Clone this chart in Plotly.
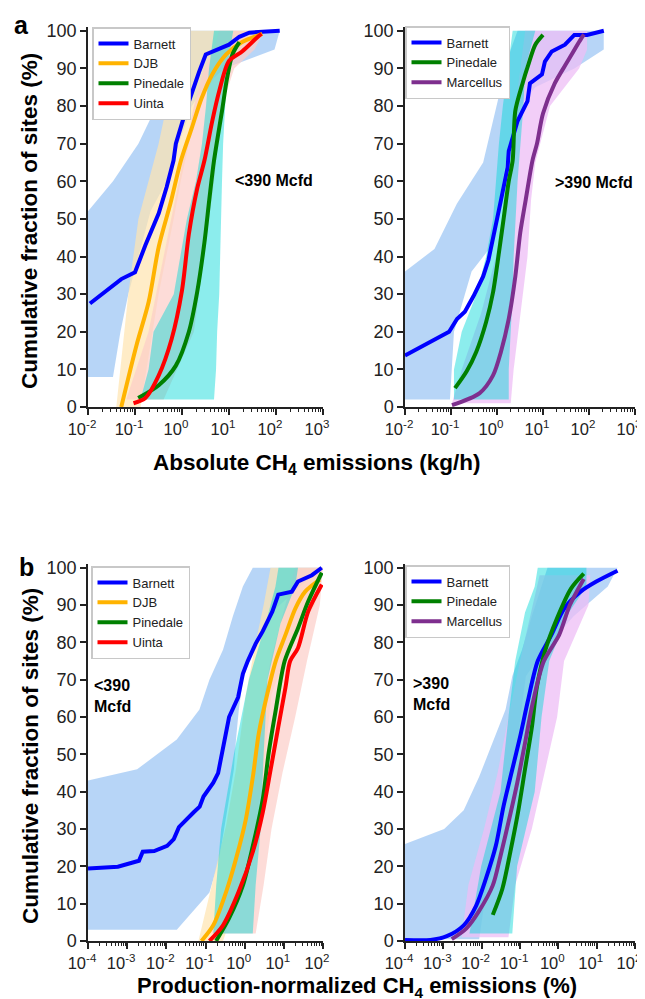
import plotly.graph_objects as go

# ---- panel a, <390 Mcfd (absolute emissions, kg/h) ----
a1_barnett_x = [0.011, 0.051, 0.10, 0.166, 0.32, 0.47, 0.66, 0.74, 1.2, 1.55, 2.3, 3.2, 5.4, 10, 16.6, 27, 120]
a1_barnett_y = [27.5, 34, 35.8, 43, 51.5, 58.4, 65.5, 70, 78.7, 83, 89, 93.7, 95, 96.3, 98.4, 99.5, 100]
a1_djb_x = [0.051, 0.107, 0.195, 0.32, 0.57, 0.95, 1.6, 2.6, 4.4, 8.7, 19, 51]
a1_djb_y = [0, 16.3, 27.9, 42.6, 54.2, 65.5, 74, 82, 88.4, 93.7, 97, 99.2]
a1_pinedale_x = [0.117, 0.32, 0.74, 1.4, 2.1, 3.0, 3.8, 4.8, 7.1, 9.1, 11.8, 16.6]
a1_pinedale_y = [2.4, 5.8, 11, 20, 30.5, 43.7, 55, 65.5, 78.7, 87.4, 93.7, 97]
a1_uinta_x = [0.093, 0.166, 0.32, 0.6, 1.0, 1.4, 2.1, 3.0, 4.4, 6.2, 10, 19, 38, 49]
a1_uinta_y = [1, 2.4, 8.4, 18, 31, 46, 58, 65.5, 76, 84, 92, 94.5, 98, 99.2]

# bootstrap envelopes (cumulative %, lower x, upper x)
a1_barnett_band_y = [8, 20, 30, 40, 52, 60, 70, 80, 85, 90, 95, 100]
a1_barnett_band_lo = [0.01, 0.01, 0.01, 0.01, 0.01, 0.034, 0.118, 0.288, 0.37, 0.47, 0.575, 0.667]
a1_barnett_band_hi = [0.034, 0.049, 0.072, 0.118, 0.214, 0.47, 0.85, 1.62, 2.9, 7.9, 93, 120]
a1_djb_band_y = [0, 10, 30, 50, 60, 70, 80, 90, 97, 100]
a1_djb_band_lo = [0.040, 0.049, 0.072, 0.118, 0.194, 0.318, 0.47, 0.604, 0.667, 0.736]
a1_djb_band_hi = [0.131, 0.176, 0.318, 0.667, 0.94, 1.40, 2.29, 6.2, 27, 44]
a1_uinta_band_y = [2, 20, 40, 60, 80, 90, 95, 100]
a1_uinta_band_lo = [0.065, 0.194, 0.406, 0.85, 1.79, 2.94, 4.8, 6.2]
a1_uinta_band_hi = [0.406, 1.79, 2.94, 4.8, 7.1, 12.9, 35, 57]
a1_pinedale_band_y = [2, 10, 20, 30, 50, 60, 70, 80, 90, 100]
a1_pinedale_band_lo = [0.131, 0.194, 0.248, 0.667, 1.27, 1.98, 2.66, 3.24, 3.76, 4.8]
a1_pinedale_band_hi = [4.8, 5.3, 5.6, 6.2, 6.8, 7.1, 7.5, 8.3, 9.1, 12.3]

# ---- panel a, >390 Mcfd ----
a2_barnett_x = [0.01, 0.022, 0.05, 0.091, 0.135, 0.2, 0.31, 0.5, 0.65, 0.82, 0.95, 1.22, 1.7,
                1.8, 2.8, 4.6, 5.2, 9.5, 11, 15.5, 30, 48, 91, 210]
a2_barnett_y = [13.7, 16, 18.2, 20, 23.4, 25.3, 29.5, 34.7, 39, 44.5, 48.4, 55, 63.7,
                68, 76, 81.3, 86, 88.4, 91.8, 94.5, 96.3, 98.9, 98.9, 100]
a2_pinedale_x = [0.122, 0.219, 0.355, 0.58, 0.82, 1.1, 1.41, 1.8, 2.19, 2.5, 3.55, 4.8, 6.8, 10]
a2_pinedale_y = [5, 9.5, 14.7, 22.6, 30.5, 41, 50.5, 60, 65.5, 78.7, 85.8, 91, 96.3, 98.9]
a2_marcellus_x = [0.105, 0.42, 0.82, 1.22, 1.8, 2.5, 3.2, 4.2, 5.9, 7.4, 10, 18, 34, 68, 78]
a2_marcellus_y = [0.5, 3.7, 8.4, 14.7, 23.4, 34.7, 46.3, 55, 65.5, 70, 78, 86, 91.8, 98, 99]

a2_barnett_band_y = [2, 20, 36, 42, 54, 65, 80, 85, 90, 95, 100]
a2_barnett_band_lo = [0.01, 0.01, 0.01, 0.0437, 0.134, 0.50, 0.95, 1.22, 1.55, 1.99, 2.8]
a2_barnett_band_hi = [0.095, 0.116, 0.28, 0.676, 1.1, 1.55, 3.2, 6.8, 48, 209, 209]
a2_pinedale_band_y = [2, 10, 20, 30, 40, 50, 60, 70, 80, 90, 100]
a2_pinedale_band_lo = [0.116, 0.116, 0.171, 0.357, 0.58, 0.82, 0.95, 1.1, 1.34, 1.71, 2.19]
a2_pinedale_band_hi = [1.8, 1.8, 1.99, 2.19, 2.3, 2.54, 2.8, 3.24, 3.75, 4.1, 6.8]
a2_marcellus_band_y = [1, 10, 25, 40, 55, 65, 80, 90, 95, 100]
a2_marcellus_band_lo = [0.105, 0.171, 0.453, 0.95, 1.55, 1.99, 2.54, 3.24, 3.75, 4.1]
a2_marcellus_band_hi = [1.99, 2.3, 3.24, 4.6, 5.5, 6.8, 14.2, 61, 91, 91]

# ---- panel b, <390 Mcfd (production-normalized, %) ----
b1_barnett_x = [0.0001, 0.00058, 0.002, 0.0025, 0.0049, 0.0105, 0.0155, 0.021, 0.05, 0.071, 0.089, 0.158, 0.21,
                0.28, 0.4, 0.68, 0.9, 1.2, 1.9, 2.9, 5.1, 7.2, 16, 23, 52, 93]
b1_barnett_y = [19.4, 19.9, 21.5, 23.9, 24.1, 25.5, 27.3, 30.5, 34.5, 36, 38.7, 42.4, 45,
                51.2, 60, 65.3, 71.6, 75, 79.6, 83, 88.3, 92.8, 93.6, 96.3, 98, 100]
b1_djb_x = [0.079, 0.158, 0.34, 0.6, 1.07, 1.62, 2.3, 3.8, 6.2, 11, 19.5, 35, 83]
b1_djb_y = [0, 4.2, 13.3, 22, 32.6, 44, 55.7, 66.3, 75, 82, 89, 93.6, 96.8]
b1_pinedale_x = [0.186, 0.4, 0.9, 1.62, 2.9, 4.1, 6.2, 10.5, 23, 42, 93]
b1_pinedale_y = [0, 6.1, 14.9, 25.5, 38, 50.4, 61.8, 75, 83.8, 91, 98.7]
b1_uinta_x = [0.126, 0.28, 0.71, 1.62, 2.9, 4.6, 7.2, 11, 14.5, 23, 42, 93]
b1_uinta_y = [0, 4.2, 13.3, 23.9, 34.5, 45.9, 57.3, 67.9, 75, 78.5, 88.3, 95.5]

b1_barnett_band_y = [3, 13, 22, 38, 43, 46, 54, 62, 70, 78, 87, 95, 100]
b1_barnett_band_lo = [0.0001, 0.0001, 0.0001, 0.0001, 0.0001, 0.0018, 0.0185, 0.070, 0.126, 0.28, 0.50, 0.90, 1.61]
b1_barnett_band_hi = [0.0185, 0.126, 0.224, 0.40, 0.476, 0.53, 0.60, 0.71, 0.90, 1.61, 3.84, 26, 99]
b1_djb_band_y = [0, 12, 31, 46, 66, 80, 90, 100]
b1_djb_band_lo = [0.066, 0.126, 0.336, 0.60, 1.07, 1.91, 3.05, 4.57]
b1_djb_band_hi = [0.28, 0.71, 1.91, 3.05, 4.84, 14.6, 62, 99]
b1_uinta_band_y = [2, 15, 30, 45, 60, 75, 90, 100]
b1_uinta_band_lo = [0.141, 0.45, 0.955, 1.61, 2.56, 4.57, 10.9, 19.5]
b1_uinta_band_hi = [1.91, 3.05, 4.84, 9.2, 19.5, 39, 83, 99]
b1_pinedale_band_y = [2, 15, 30, 50, 70, 85, 95, 100]
b1_pinedale_band_lo = [0.158, 0.188, 0.25, 0.53, 1.28, 3.42, 6.1, 7.3]
b1_pinedale_band_hi = [1.61, 1.91, 2.56, 3.05, 3.84, 8.2, 19.5, 23]

# ---- panel b, >390 Mcfd ----
b2_barnett_x = [0.0001, 0.00046, 0.00123, 0.0034, 0.0072, 0.0129, 0.0234, 0.037, 0.063, 0.1, 0.162,
                0.29, 0.66, 1.41, 3.8, 9.8, 35]
b2_barnett_y = [0.3, 0.3, 1.3, 4.2, 9.5, 16.7, 25.5, 36, 46, 54.6, 64.5, 75, 82, 89, 93.6, 96.3, 99.2]
b2_pinedale_x = [0.0195, 0.0347, 0.056, 0.089, 0.135, 0.204, 0.275, 0.45, 0.93, 2.14, 4.6]
b2_pinedale_y = [7, 14, 23.9, 34.5, 46, 57.3, 68, 77.7, 86.5, 94.4, 98.4]
b2_marcellus_x = [0.00166, 0.004, 0.0085, 0.0195, 0.031, 0.05, 0.085, 0.135, 0.214, 0.42, 1.05, 2.0, 4.6]
b2_marcellus_y = [0.5, 3.4, 8, 14.9, 22.8, 31.8, 42.4, 53, 63.7, 75, 82, 90, 97]

b2_barnett_band_y = [0.5, 13, 22, 26, 30, 35, 44, 55, 62, 71, 78, 87, 95, 100]
b2_barnett_band_lo = [0.0001, 0.0001, 0.0001, 0.0001, 0.00105, 0.0034, 0.0086, 0.0232, 0.042, 0.063, 0.113, 0.203, 0.365, 0.52]
b2_barnett_band_hi = [0.0086, 0.0129, 0.0232, 0.0277, 0.033, 0.039, 0.053, 0.089, 0.107, 0.143, 0.435, 2.5, 19.5, 35]
b2_pinedale_band_y = [2, 20, 40, 60, 75, 88, 95, 100]
b2_pinedale_band_lo = [0.0048, 0.0097, 0.031, 0.05, 0.075, 0.135, 0.242, 0.29]
b2_pinedale_band_hi = [0.063, 0.084, 0.242, 0.365, 0.58, 1.88, 5.4, 5.4]
b2_marcellus_band_y = [1, 15, 30, 45, 60, 75, 90, 98]
b2_marcellus_band_lo = [0.003, 0.0045, 0.0115, 0.026, 0.05, 0.1, 0.215, 0.325]
b2_marcellus_band_hi = [0.05, 0.075, 0.203, 0.435, 0.93, 1.41, 6.1, 6.8]

ticks_a = [0.01, 0.1, 1, 10, 100, 1000]
labels_a = ["10<sup>-2</sup>", "10<sup>-1</sup>", "10<sup>0</sup>", "10<sup>1</sup>", "10<sup>2</sup>", "10<sup>3</sup>"]
ticks_b = [1e-4, 1e-3, 0.01, 0.1, 1, 10, 100]
labels_b = ["10<sup>-4</sup>", "10<sup>-3</sup>", "10<sup>-2</sup>", "10<sup>-1</sup>", "10<sup>0</sup>", "10<sup>1</sup>", "10<sup>2</sup>"]

COL = {"Barnett": "#0000ff", "DJB": "#ffb300", "Pinedale": "#008000", "Uinta": "#ff0000", "Marcellus": "#7e2f8e"}
BAND = {"Barnett": "rgba(165,203,245,0.8)", "DJB": "rgba(255,228,175,0.7)", "Pinedale": "rgba(0,215,215,0.45)",
        "Uinta": "rgba(252,205,200,0.7)", "Marcellus": "rgba(238,190,245,0.75)"}
FONT = "Liberation Sans, Arial, sans-serif"

fig = go.Figure()


def band(name, ys, lo, hi, n):
    fig.add_trace(go.Scatter(x=lo + hi[::-1], y=ys + ys[::-1], fill="toself", fillcolor=BAND[name],
                             line=dict(width=0), mode="lines", showlegend=False, hoverinfo="skip",
                             xaxis="x" + n, yaxis="y" + n))


def curve(name, xs, ys, n, leg, shape="spline"):
    fig.add_trace(go.Scatter(x=xs, y=ys, mode="lines", name=name,
                             line=dict(color=COL[name], width=4, shape=shape, smoothing=0.8),
                             xaxis="x" + n, yaxis="y" + n, legend=leg))


band("Barnett", a1_barnett_band_y, a1_barnett_band_lo, a1_barnett_band_hi, "")
band("DJB", a1_djb_band_y, a1_djb_band_lo, a1_djb_band_hi, "")
band("Uinta", a1_uinta_band_y, a1_uinta_band_lo, a1_uinta_band_hi, "")
band("Pinedale", a1_pinedale_band_y, a1_pinedale_band_lo, a1_pinedale_band_hi, "")
curve("Barnett", a1_barnett_x, a1_barnett_y, "", "legend", "linear")
curve("DJB", a1_djb_x, a1_djb_y, "", "legend")
curve("Pinedale", a1_pinedale_x, a1_pinedale_y, "", "legend")
curve("Uinta", a1_uinta_x, a1_uinta_y, "", "legend")

band("Barnett", a2_barnett_band_y, a2_barnett_band_lo, a2_barnett_band_hi, "2")
band("Marcellus", a2_marcellus_band_y, a2_marcellus_band_lo, a2_marcellus_band_hi, "2")
band("Pinedale", a2_pinedale_band_y, a2_pinedale_band_lo, a2_pinedale_band_hi, "2")
curve("Barnett", a2_barnett_x, a2_barnett_y, "2", "legend2", "linear")
curve("Pinedale", a2_pinedale_x, a2_pinedale_y, "2", "legend2")
curve("Marcellus", a2_marcellus_x, a2_marcellus_y, "2", "legend2")

band("Barnett", b1_barnett_band_y, b1_barnett_band_lo, b1_barnett_band_hi, "3")
band("DJB", b1_djb_band_y, b1_djb_band_lo, b1_djb_band_hi, "3")
band("Uinta", b1_uinta_band_y, b1_uinta_band_lo, b1_uinta_band_hi, "3")
band("Pinedale", b1_pinedale_band_y, b1_pinedale_band_lo, b1_pinedale_band_hi, "3")
curve("Barnett", b1_barnett_x, b1_barnett_y, "3", "legend3", "linear")
curve("DJB", b1_djb_x, b1_djb_y, "3", "legend3")
curve("Pinedale", b1_pinedale_x, b1_pinedale_y, "3", "legend3")
curve("Uinta", b1_uinta_x, b1_uinta_y, "3", "legend3")

band("Barnett", b2_barnett_band_y, b2_barnett_band_lo, b2_barnett_band_hi, "4")
band("Marcellus", b2_marcellus_band_y, b2_marcellus_band_lo, b2_marcellus_band_hi, "4")
band("Pinedale", b2_pinedale_band_y, b2_pinedale_band_lo, b2_pinedale_band_hi, "4")
curve("Barnett", b2_barnett_x, b2_barnett_y, "4", "legend4")
curve("Pinedale", b2_pinedale_x, b2_pinedale_y, "4", "legend4")
curve("Marcellus", b2_marcellus_x, b2_marcellus_y, "4", "legend4")

W, H = 645, 999
dom_left = [80 / W, 315 / W]
dom_right = [397 / W, 627 / W]
dom_top = [1 - 399 / H, 1 - 19 / H]
dom_bot = [1 - 933 / H, 1 - 556 / H]


def xax(dom, rng, tv, tt, anchor):
    return dict(domain=dom, type="log", range=rng, tickmode="array", tickvals=tv, ticktext=tt,
                showline=True, linecolor="#222", linewidth=1.5, ticks="outside", ticklen=6, tickwidth=1.5,
                tickcolor="#222", showgrid=False, zeroline=False, anchor=anchor, automargin=False,
                ticklabeloverflow="allow", ticklabelshift=-6, tickfont=dict(size=16.5, color="#222"),
                minor=dict(ticks="outside", ticklen=3, tickwidth=1, tickcolor="#222", dtick="D1", showgrid=False))


def yax(dom, anchor):
    return dict(domain=dom, range=[0, 101], tickvals=list(range(0, 101, 10)), showline=True, linecolor="#222",
                linewidth=1.5, ticks="outside", ticklen=6, tickwidth=1.5, tickcolor="#222", showgrid=False,
                zeroline=False, anchor=anchor, automargin=False, tickfont=dict(size=18, color="#222"))


def leg(x, y):
    return dict(x=x / W, y=1 - y / H, xanchor="left", yanchor="top", bgcolor="white", bordercolor="#c8c8c8",
                borderwidth=1.5, font=dict(size=13, color="#222"), tracegroupgap=0)


ann = [
    dict(text="<b>a</b>", x=13 / W, y=1 - 17 / H, xanchor="center", yanchor="middle", font=dict(size=25)),
    dict(text="<b>b</b>", x=18 / W, y=1 - 559 / H, xanchor="center", yanchor="middle", font=dict(size=25)),
    dict(text="<b>Cumulative fraction of sites (%)</b>", x=22 / W, y=1 - 213 / H, textangle=-90,
         xanchor="center", yanchor="middle", font=dict(size=22.5)),
    dict(text="<b>Cumulative fraction of sites (%)</b>", x=22 / W, y=1 - 748 / H, textangle=-90,
         xanchor="center", yanchor="middle", font=dict(size=22.5)),
    dict(text="<b>Absolute CH<sub>4</sub> emissions (kg/h)</b>", x=143 / W, y=1 - 456 / H,
         xanchor="left", yanchor="middle", font=dict(size=22.5)),
    dict(text="<b>Production-normalized CH<sub>4</sub> emissions (%)</b>", x=127 / W, y=1 - 979 / H,
         xanchor="left", yanchor="middle", font=dict(size=22)),
    dict(text="<b><390 Mcfd</b>", x=225 / W, y=1 - 173 / H, xanchor="left", yanchor="middle", font=dict(size=16)),
    dict(text="<b>>390 Mcfd</b>", x=545 / W, y=1 - 175 / H, xanchor="left", yanchor="middle", font=dict(size=16)),
    dict(text="<b><390<br>Mcfd</b>", x=84 / W, y=1 - 688 / H, xanchor="left", yanchor="middle", align="left",
         font=dict(size=16)),
    dict(text="<b>>390<br>Mcfd</b>", x=403 / W, y=1 - 686 / H, xanchor="left", yanchor="middle", align="left",
         font=dict(size=16)),
]
for a in ann:
    a.update(xref="paper", yref="paper", showarrow=False)
    a["font"].update(family=FONT, color="black")

fig.update_layout(
    width=W, height=H, margin=dict(l=0, r=0, t=0, b=0),
    paper_bgcolor="white", plot_bgcolor="white",
    font=dict(family=FONT, color="#222"),
    xaxis=xax(dom_left, [-2, 3], ticks_a, labels_a, "y"),
    yaxis=yax(dom_top, "x"),
    xaxis2=xax(dom_right, [-2, 3], ticks_a, labels_a, "y2"),
    yaxis2=yax(dom_top, "x2"),
    xaxis3=xax(dom_left, [-4, 2], ticks_b, labels_b, "y3"),
    yaxis3=yax(dom_bot, "x3"),
    xaxis4=xax(dom_right, [-4, 2], ticks_b, labels_b, "y4"),
    yaxis4=yax(dom_bot, "x4"),
    legend=leg(84, 19),
    legend2=leg(397, 18),
    legend3=leg(83, 558),
    legend4=leg(397, 557),
    annotations=ann,
)

fig.write_html("out.html")
